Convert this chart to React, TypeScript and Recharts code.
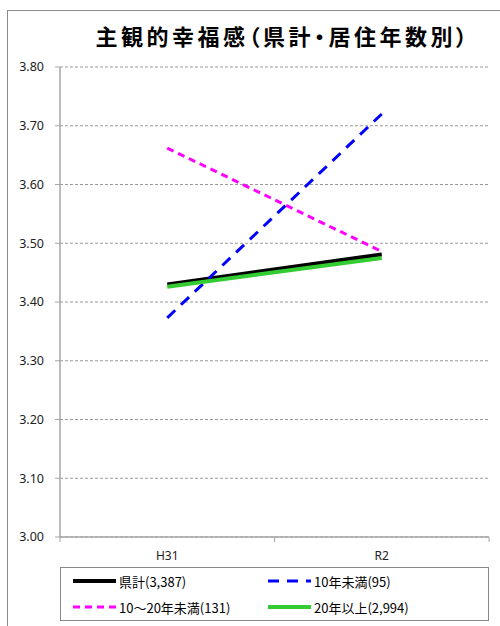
import { LineChart, Line, XAxis, YAxis, CartesianGrid, Legend } from 'recharts'

const periods = ['H31', 'R2']
const kenkei = [3.43, 3.481]
const under10 = [3.373, 3.72]
const from10to20 = [3.662, 3.486]
const over20 = [3.426, 3.475]
const yTicks = [3.0, 3.1, 3.2, 3.3, 3.4, 3.5, 3.6, 3.7, 3.8]

const series = [
  { key: 'kenkei', name: '県計(3,387)', color: '#000000', width: 4, dash: undefined },
  { key: 'under10', name: '10年未満(95)', color: '#0000ff', width: 3, dash: '11 8' },
  { key: 'from10to20', name: '10～20年未満(131)', color: '#ff00ff', width: 3, dash: '7 5' },
  { key: 'over20', name: '20年以上(2,994)', color: '#33cc33', width: 4, dash: undefined },
]

const data = periods.map((period, i) => ({
  period,
  kenkei: kenkei[i],
  under10: under10[i],
  from10to20: from10to20[i],
  over20: over20[i],
}))

const font = '"Noto Sans CJK JP", "Noto Sans", sans-serif'
const axisGrey = '#a6a6a6'

// category label in the middle, tick marks on the band edges (Excel style)
function PeriodTick({ x, y, payload }: any) {
  const half = payload?.offset ?? 0
  return (
    <g>
      {half > 0 && (
        <>
          <line x1={x - half} x2={x - half} y1={y} y2={y + 5} stroke={axisGrey} />
          <line x1={x + half} x2={x + half} y1={y} y2={y + 5} stroke={axisGrey} />
        </>
      )}
      <text
        x={x}
        y={y + 20}
        textAnchor="middle"
        dominantBaseline="middle"
        fontSize={12}
        fill="#222"
        fontFamily='"Noto Sans", sans-serif'
      >
        {payload.value}
      </text>
    </g>
  )
}

function LegendBox({ payload }: any) {
  const items = [...(payload ?? [])].sort(
    (a: any, b: any) =>
      series.findIndex((s) => s.key === a.dataKey) - series.findIndex((s) => s.key === b.dataKey)
  )
  return (
    <div
      style={{
        border: '1px solid #888',
        height: 52,
        display: 'grid',
        gridTemplateColumns: '195px 1fr',
        gridTemplateRows: '1fr 1fr',
        alignItems: 'center',
        paddingLeft: 11,
        fontFamily: font,
        fontSize: 13,
        color: '#000',
      }}
    >
      {items.map((it: any) => {
        const s = series.find((x) => x.key === it.dataKey)!
        return (
          <div key={it.dataKey} style={{ display: 'flex', alignItems: 'center' }}>
            <svg width={46} height={8} style={{ marginRight: 1 }}>
              <line
                x1={1}
                y1={4}
                x2={44}
                y2={4}
                stroke={s.color}
                strokeWidth={s.width}
                strokeDasharray={s.dash}
              />
            </svg>
            <span>{it.value}</span>
          </div>
        )
      })}
    </div>
  )
}

export default function App() {
  return (
    <div style={{ position: 'fixed', left: 0, top: 0, width: 500, height: 626, background: '#fff', overflow: 'hidden' }}>
      <div
        style={{
          position: 'absolute',
          left: 7,
          top: 10,
          width: 520,
          height: 640,
          borderLeft: '1px solid #8c8c8c',
          borderTop: '1px solid #8c8c8c',
        }}
      />
      <div
        style={{
          position: 'absolute',
          left: 60,
          width: 446,
          top: 20,
          textAlign: 'center',
          fontFamily: font,
          fontWeight: 700,
          fontSize: 22,
          letterSpacing: 3.5,
          fontFeatureSettings: '"palt"',
          lineHeight: '30px',
          color: '#000',
        }}
      >
        主観的幸福感（県計・居住年数別）
      </div>
      <div style={{ position: 'absolute', left: 0, top: 0 }}>
        <LineChart width={500} height={626} data={data} margin={{ top: 67, right: 11, left: 8, bottom: 5 }}>
          <CartesianGrid horizontal vertical={false} stroke="#999" strokeDasharray="3 2" />
          <XAxis
            dataKey="period"
            scale="band"
            axisLine={{ stroke: axisGrey, strokeWidth: 1.5 }}
            tickLine={false}
            tickSize={0}
            tickMargin={0}
            tick={<PeriodTick />}
            height={30}
          />
          <YAxis
            domain={[3.0, 3.8]}
            ticks={yTicks}
            interval={0}
            tickFormatter={(v) => Number(v).toFixed(2)}
            axisLine={{ stroke: axisGrey, strokeWidth: 1.5 }}
            tickLine={{ stroke: axisGrey }}
            tickSize={5}
            tickMargin={11}
            width={52}
            tick={{ fontSize: 12.5, fill: '#222', fontFamily: '"Noto Sans", sans-serif' }}
          />
          <Legend
            verticalAlign="bottom"
            content={<LegendBox />}
            wrapperStyle={{ left: 60, width: 429 }}
          />
          {series.map((s) => (
            <Line
              key={s.key}
              dataKey={s.key}
              name={s.name}
              stroke={s.color}
              strokeWidth={s.width}
              strokeDasharray={s.dash}
              dot={false}
              activeDot={false}
              legendType="line"
              isAnimationActive={false}
            />
          ))}
        </LineChart>
      </div>
    </div>
  )
}
